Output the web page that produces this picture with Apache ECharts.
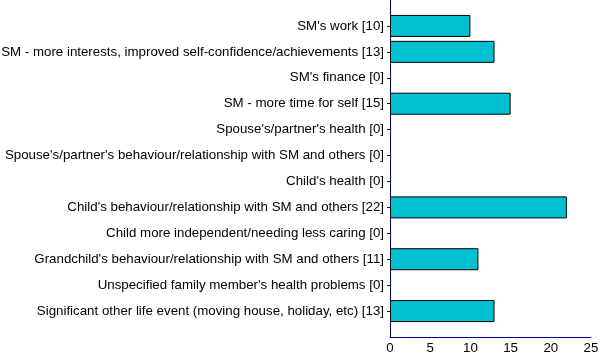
<!DOCTYPE html>
<html><head><meta charset="utf-8">
<script src="https://cdn.jsdelivr.net/npm/echarts@6/dist/echarts.min.js"></script>
<style>html,body{margin:0;padding:0;background:#fff}#c{width:600px;height:364px}</style>
</head><body><div id="c"></div>
<script>
const categories = [
  "SM's work [10]",
  "SM - more interests, improved self-confidence/achievements [13]",
  "SM's finance [0]",
  "SM - more time for self [15]",
  "Spouse's/partner's health [0]",
  "Spouse's/partner's behaviour/relationship with SM and others [0]",
  "Child's health [0]",
  "Child's behaviour/relationship with SM and others [22]",
  "Child more independent/needing less caring [0]",
  "Grandchild's behaviour/relationship with SM and others [11]",
  "Unspecified family member's health problems [0]",
  "Significant other life event (moving house, holiday, etc) [13]"
];
const values = [10, 13, 0, 15, 0, 0, 0, 22, 0, 11, 0, 13];
const xTicks = [0, 5, 10, 15, 20, 25];

const axisCats = [''].concat(categories, ['']);
const barData = [null].concat(values.map(function (v) {
  return v === 0 ? {value: 0, itemStyle: {borderWidth: 0, opacity: 0}} : v;
}), [null]);
const n = axisCats.length;
const FONT = 'Liberation Sans, Arial, sans-serif';

const chart = echarts.init(document.getElementById('c'), null, {renderer: 'canvas'});
chart.setOption({
  animation: false,
  grid: {left: 390, right: 9, top: 0, bottom: 27, containLabel: false, outerBoundsMode: 'none'},
  xAxis: {
    type: 'value', min: xTicks[0], max: xTicks[xTicks.length - 1], interval: 5,
    axisLine: {show: true, lineStyle: {color: '#000080', width: 1}},
    axisTick: {show: false},
    splitLine: {show: false},
    axisLabel: {color: '#000', fontFamily: FONT, fontSize: 13.3, margin: 5}
  },
  yAxis: {
    type: 'category', data: axisCats, inverse: true, boundaryGap: false,
    axisLine: {show: true, lineStyle: {color: '#000080', width: 1}},
    axisTick: {show: true, length: 3, lineStyle: {color: '#000080'},
      interval: function (i) { return i > 0 && i < n - 1; }},
    axisLabel: {color: '#000', fontFamily: FONT, fontSize: 13.3, margin: 6, interval: 0},
    splitLine: {show: false}
  },
  series: [{
    type: 'bar', data: barData, barWidth: 22,
    itemStyle: {color: '#00c0d2', borderColor: '#000', borderWidth: 1}
  }]
});
</script></body></html>
